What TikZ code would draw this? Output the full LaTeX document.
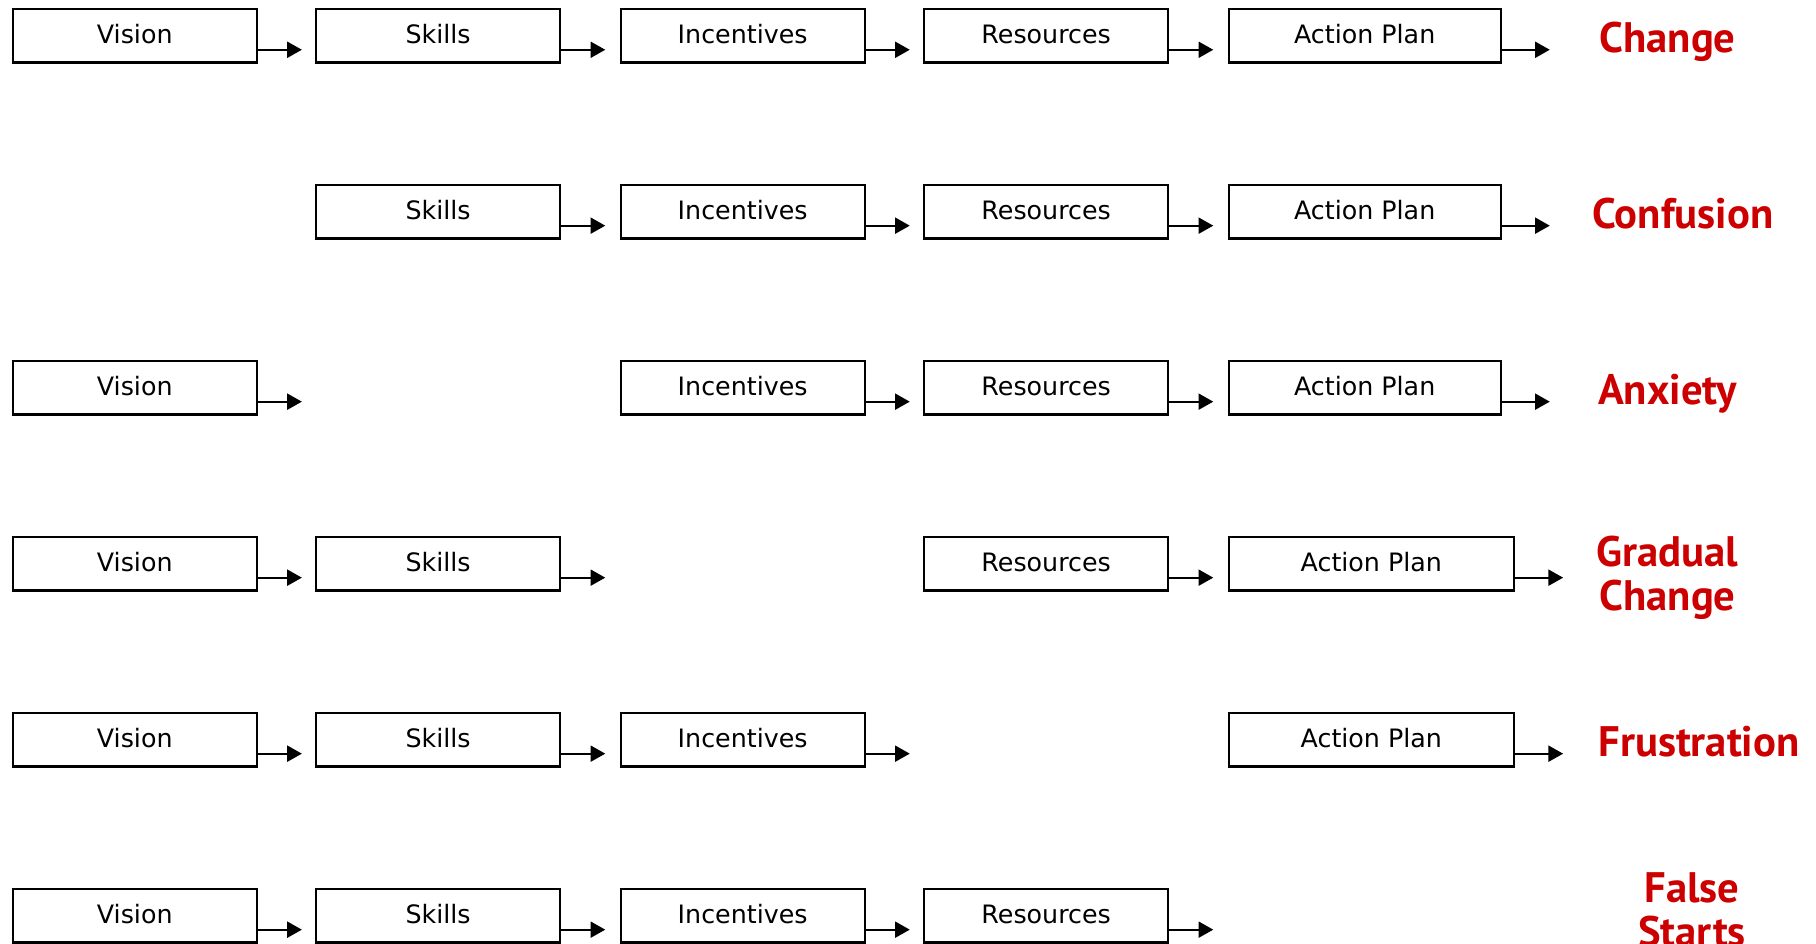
\documentclass[tikz,border=0pt]{standalone}
\usepackage{fontspec}
\setmainfont{DejaVu Sans}
\newfontfamily\labelfont{PT Sans}
\usetikzlibrary{arrows.meta}
\definecolor{labelred}{HTML}{CC0000}
\begin{document}
\begin{tikzpicture}[x=0.75pt,y=-0.75pt,
  stagebox/.style={draw, line width=1.7pt, rectangle, inner sep=0pt,
    minimum width=183pt, minimum height=40pt, anchor=north west,
    font=\fontsize{19}{22}\selectfont, text height=11pt, text depth=0pt},
  planbox/.style={stagebox, minimum width=204pt},
  widebox/.style={stagebox, minimum width=214pt},
  arr/.style={line width=1.4pt, -{Triangle[length=11pt,width=12pt]}},
  result/.style={text=labelred, anchor=base, align=center,
    font=\labelfont\bfseries\fontsize{32}{33}\selectfont}]
\useasboundingbox (0,0) rectangle (1816,944);
% row 1
\node[stagebox] (v1) at (11.6,8.1) {Vision};
\node[stagebox] (s1) at (315,8.1) {Skills};
\node[stagebox] (i1) at (619.5,8.1) {Incentives};
\node[stagebox] (r1) at (923,8.1) {Resources};
\node[planbox] (a1) at (1227.5,8.1) {Action Plan};
% row 2
\node[stagebox] (s2) at (315,184) {Skills};
\node[stagebox] (i2) at (619.5,184) {Incentives};
\node[stagebox] (r2) at (923,184) {Resources};
\node[planbox] (a2) at (1227.5,184) {Action Plan};
% row 3
\node[stagebox] (v3) at (11.6,360) {Vision};
\node[stagebox] (i3) at (619.5,360) {Incentives};
\node[stagebox] (r3) at (923,360) {Resources};
\node[planbox] (a3) at (1227.5,360) {Action Plan};
% row 4
\node[stagebox] (v4) at (11.6,536) {Vision};
\node[stagebox] (s4) at (315,536) {Skills};
\node[stagebox] (r4) at (923,536) {Resources};
\node[widebox] (a4) at (1227.5,536) {Action Plan};
% row 5
\node[stagebox] (v5) at (11.6,712) {Vision};
\node[stagebox] (s5) at (315,712) {Skills};
\node[stagebox] (i5) at (619.5,712) {Incentives};
\node[widebox] (a5) at (1227.5,712) {Action Plan};
% row 6
\node[stagebox] (v6) at (11.6,888) {Vision};
\node[stagebox] (s6) at (315,888) {Skills};
\node[stagebox] (i6) at (619.5,888) {Incentives};
\node[stagebox] (r6) at (923,888) {Resources};
% arrows
\foreach \n in {v1,s1,i1,r1,s2,i2,r2,v3,i3,r3,v4,s4,r4,v5,s5,i5,v6,s6,i6,r6}
  \draw[arr] ([yshift=-10.4pt]\n.east) -- ++(44,0) coordinate (\n-tip);
\foreach \n in {a1,a2,a3,a4,a5}
  \draw[arr] ([yshift=-10.4pt]\n.east) -- ++(48,0) coordinate (\n-tip);
% results
\node[result] (res1) at (1667.5,53) {Change};
\node[result] (res2) at (1683,229) {Confusion};
\node[result] (res3) at (1667.5,405) {Anxiety};
\node[result] (res4) at (1667.5,610) {Gradual\\Change};
\node[result] (res5) at (1699,756) {Frustration};
\node[result] (res6) at (1692,946) {False\\Starts};
\end{tikzpicture}
\end{document}
